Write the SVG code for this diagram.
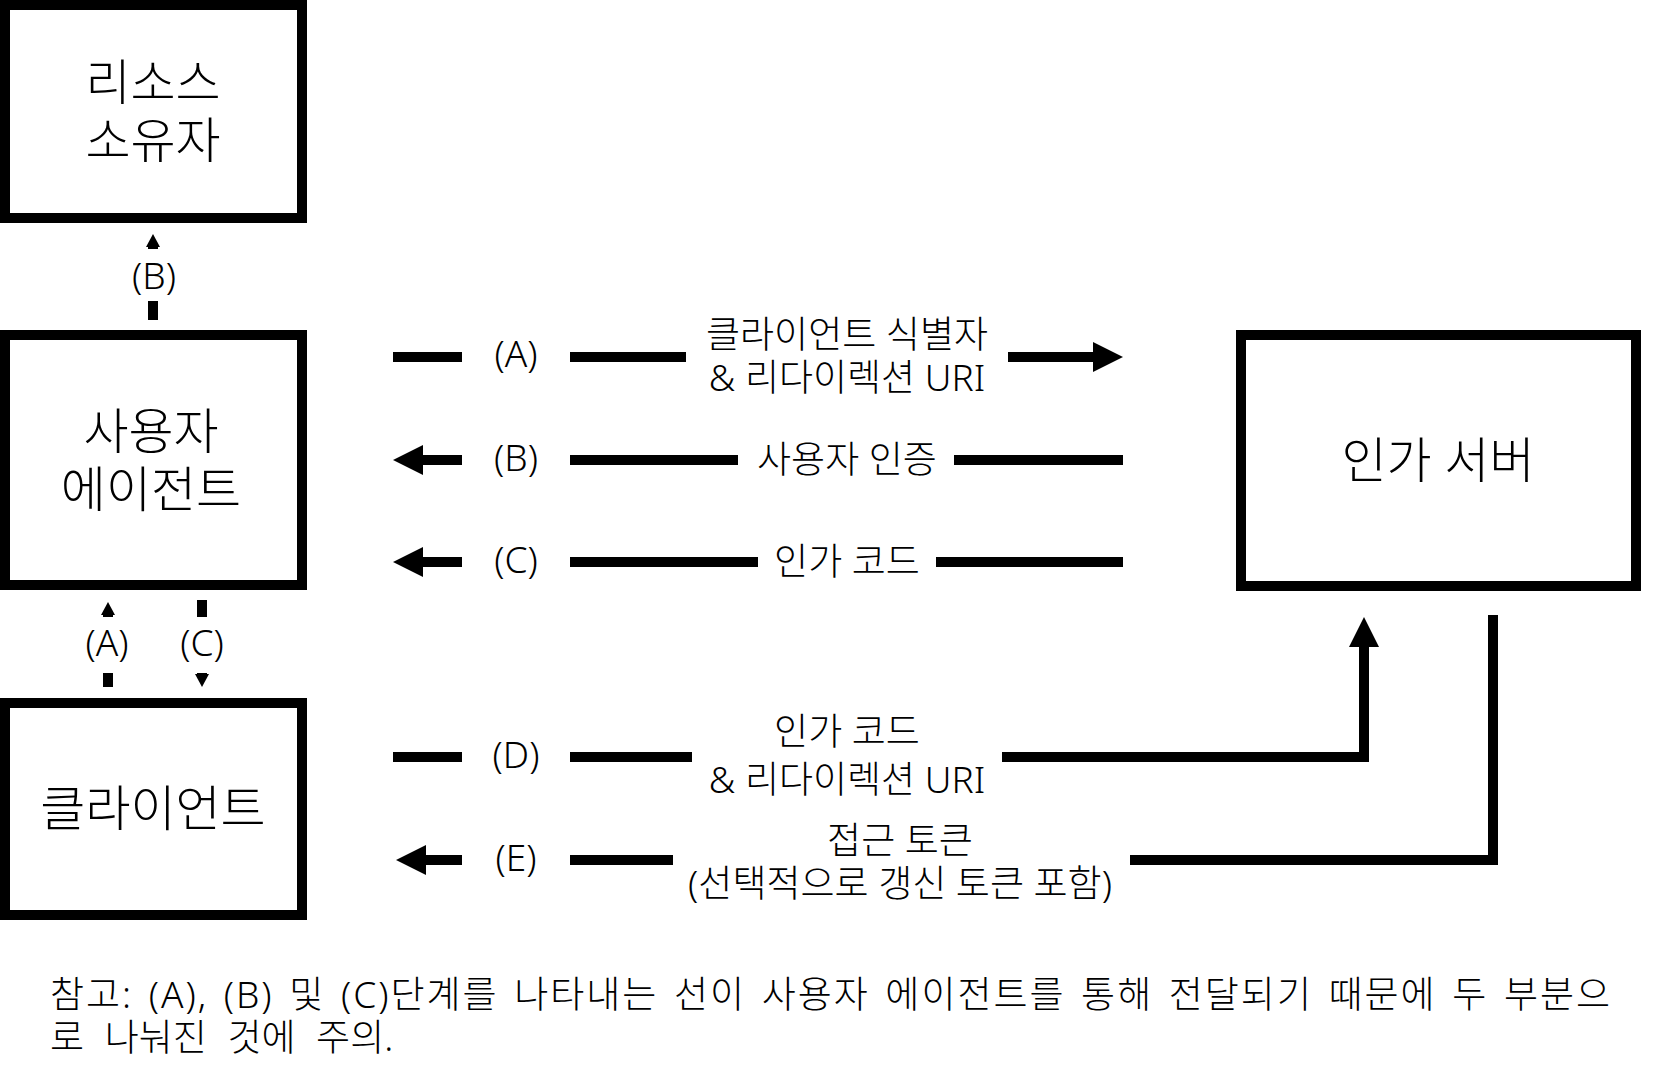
<svg xmlns="http://www.w3.org/2000/svg" width="1661" height="1085" viewBox="0 0 1661 1085">
<style>
.box{fill:#fff;stroke:#000;stroke-width:10}
.t{font-family:"Noto Sans","Noto Sans CJK KR",sans-serif;fill:#000;text-anchor:middle;font-weight:300}
.big{font-size:49px}
.lbl{font-size:37px}
.let{font-size:37px}
.note{font-family:"Noto Sans","Noto Sans CJK KR",sans-serif;font-size:37px;fill:#000;font-weight:300}
.c{fill:none;stroke:#000;stroke-width:10}
.bg{fill:#fff}
</style>
<defs>
<marker id="ah" markerUnits="userSpaceOnUse" markerWidth="30" markerHeight="30" refX="0" refY="15" orient="auto" overflow="visible">
<path d="M0,0 L30,15 L0,30 z" fill="#000"/>
</marker>
<marker id="sh" markerUnits="userSpaceOnUse" markerWidth="14" markerHeight="14" refX="0" refY="7" orient="auto" overflow="visible">
<path d="M0,0 L13,7 L0,14 z" fill="#000"/>
</marker>
</defs>
<rect x="0" y="0" width="1661" height="1085" fill="#fff"/>

<g id="connectors">
<!-- (B) resource owner <- user agent -->
<path class="c" d="M153,320 V247" marker-end="url(#sh)"/>
<rect class="bg" x="125" y="249" width="56" height="52"/>
<text class="t let" x="154" y="289">(B)</text>
<!-- (A) up, (C) down between user agent and client -->
<path class="c" d="M108,687 V615" marker-end="url(#sh)"/>
<rect class="bg" x="80" y="617" width="56" height="56"/>
<text class="t let" x="107" y="656">(A)</text>
<path class="c" d="M202,600 V674" marker-end="url(#sh)"/>
<rect class="bg" x="174" y="617" width="56" height="56"/>
<text class="t let" x="202" y="656">(C)</text>

<!-- row A -->
<path class="c" d="M393,357 H462"/>
<path class="c" d="M570,357 H686"/>
<path class="c" d="M1008,357 H1093" marker-end="url(#ah)"/>
<text class="t let" x="516" y="367">(A)</text>
<text class="t lbl" x="847" y="348">클라이언트 식별자</text>
<text class="t lbl" x="847" y="391">&amp; 리다이렉션 URI</text>
<!-- row B -->
<path class="c" d="M462,460 H423" marker-end="url(#ah)"/>
<path class="c" d="M570,460 H738"/>
<path class="c" d="M954,460 H1123"/>
<text class="t let" x="516" y="471">(B)</text>
<text class="t lbl" x="847" y="473">사용자 인증</text>
<!-- row C -->
<path class="c" d="M462,562 H423" marker-end="url(#ah)"/>
<path class="c" d="M570,562 H758"/>
<path class="c" d="M936,562 H1123"/>
<text class="t let" x="516" y="573">(C)</text>
<text class="t lbl" x="847" y="575">인가 코드</text>
<!-- row D -->
<path class="c" d="M393,757 H462"/>
<path class="c" d="M570,757 H692"/>
<path class="c" d="M1002,757 H1364 V647" marker-end="url(#ah)"/>
<text class="t let" x="516" y="768">(D)</text>
<text class="t lbl" x="847" y="745">인가 코드</text>
<text class="t lbl" x="847" y="793">&amp; 리다이렉션 URI</text>
<!-- row E -->
<path class="c" d="M462,860 H426" marker-end="url(#ah)"/>
<path class="c" d="M570,860 H673"/>
<path class="c" d="M1493,615 V860 H1130"/>
<text class="t let" x="516" y="871">(E)</text>
<text class="t lbl" x="900" y="854">접근 토큰</text>
<text class="t lbl" x="900" y="897">(선택적으로 갱신 토큰 포함)</text>
</g>

<g id="resource-owner">
<rect class="box" x="5" y="5" width="297" height="213"/>
<text class="t big" x="153" y="100">리소스</text>
<text class="t big" x="153" y="158">소유자</text>
</g>
<g id="user-agent">
<rect class="box" x="5" y="335" width="297" height="250"/>
<text class="t big" x="151" y="449">사용자</text>
<text class="t big" x="151" y="507">에이전트</text>
</g>
<g id="client">
<rect class="box" x="5" y="703" width="297" height="212"/>
<text class="t big" x="153" y="826">클라이언트</text>
</g>
<g id="auth-server">
<rect class="box" x="1241" y="335" width="395" height="251"/>
<text class="t big" x="1438" y="478">인가 서버</text>
</g>

<g id="note">
<text class="note" x="50" y="1008" word-spacing="4" textLength="1560" lengthAdjust="spacing">참고: (A), (B) 및 (C)단계를 나타내는 선이 사용자 에이전트를 통해 전달되기 때문에 두 부분으</text>
<text class="note" x="50" y="1051" word-spacing="11">로 나눠진 것에 주의.</text>
</g>
</svg>
